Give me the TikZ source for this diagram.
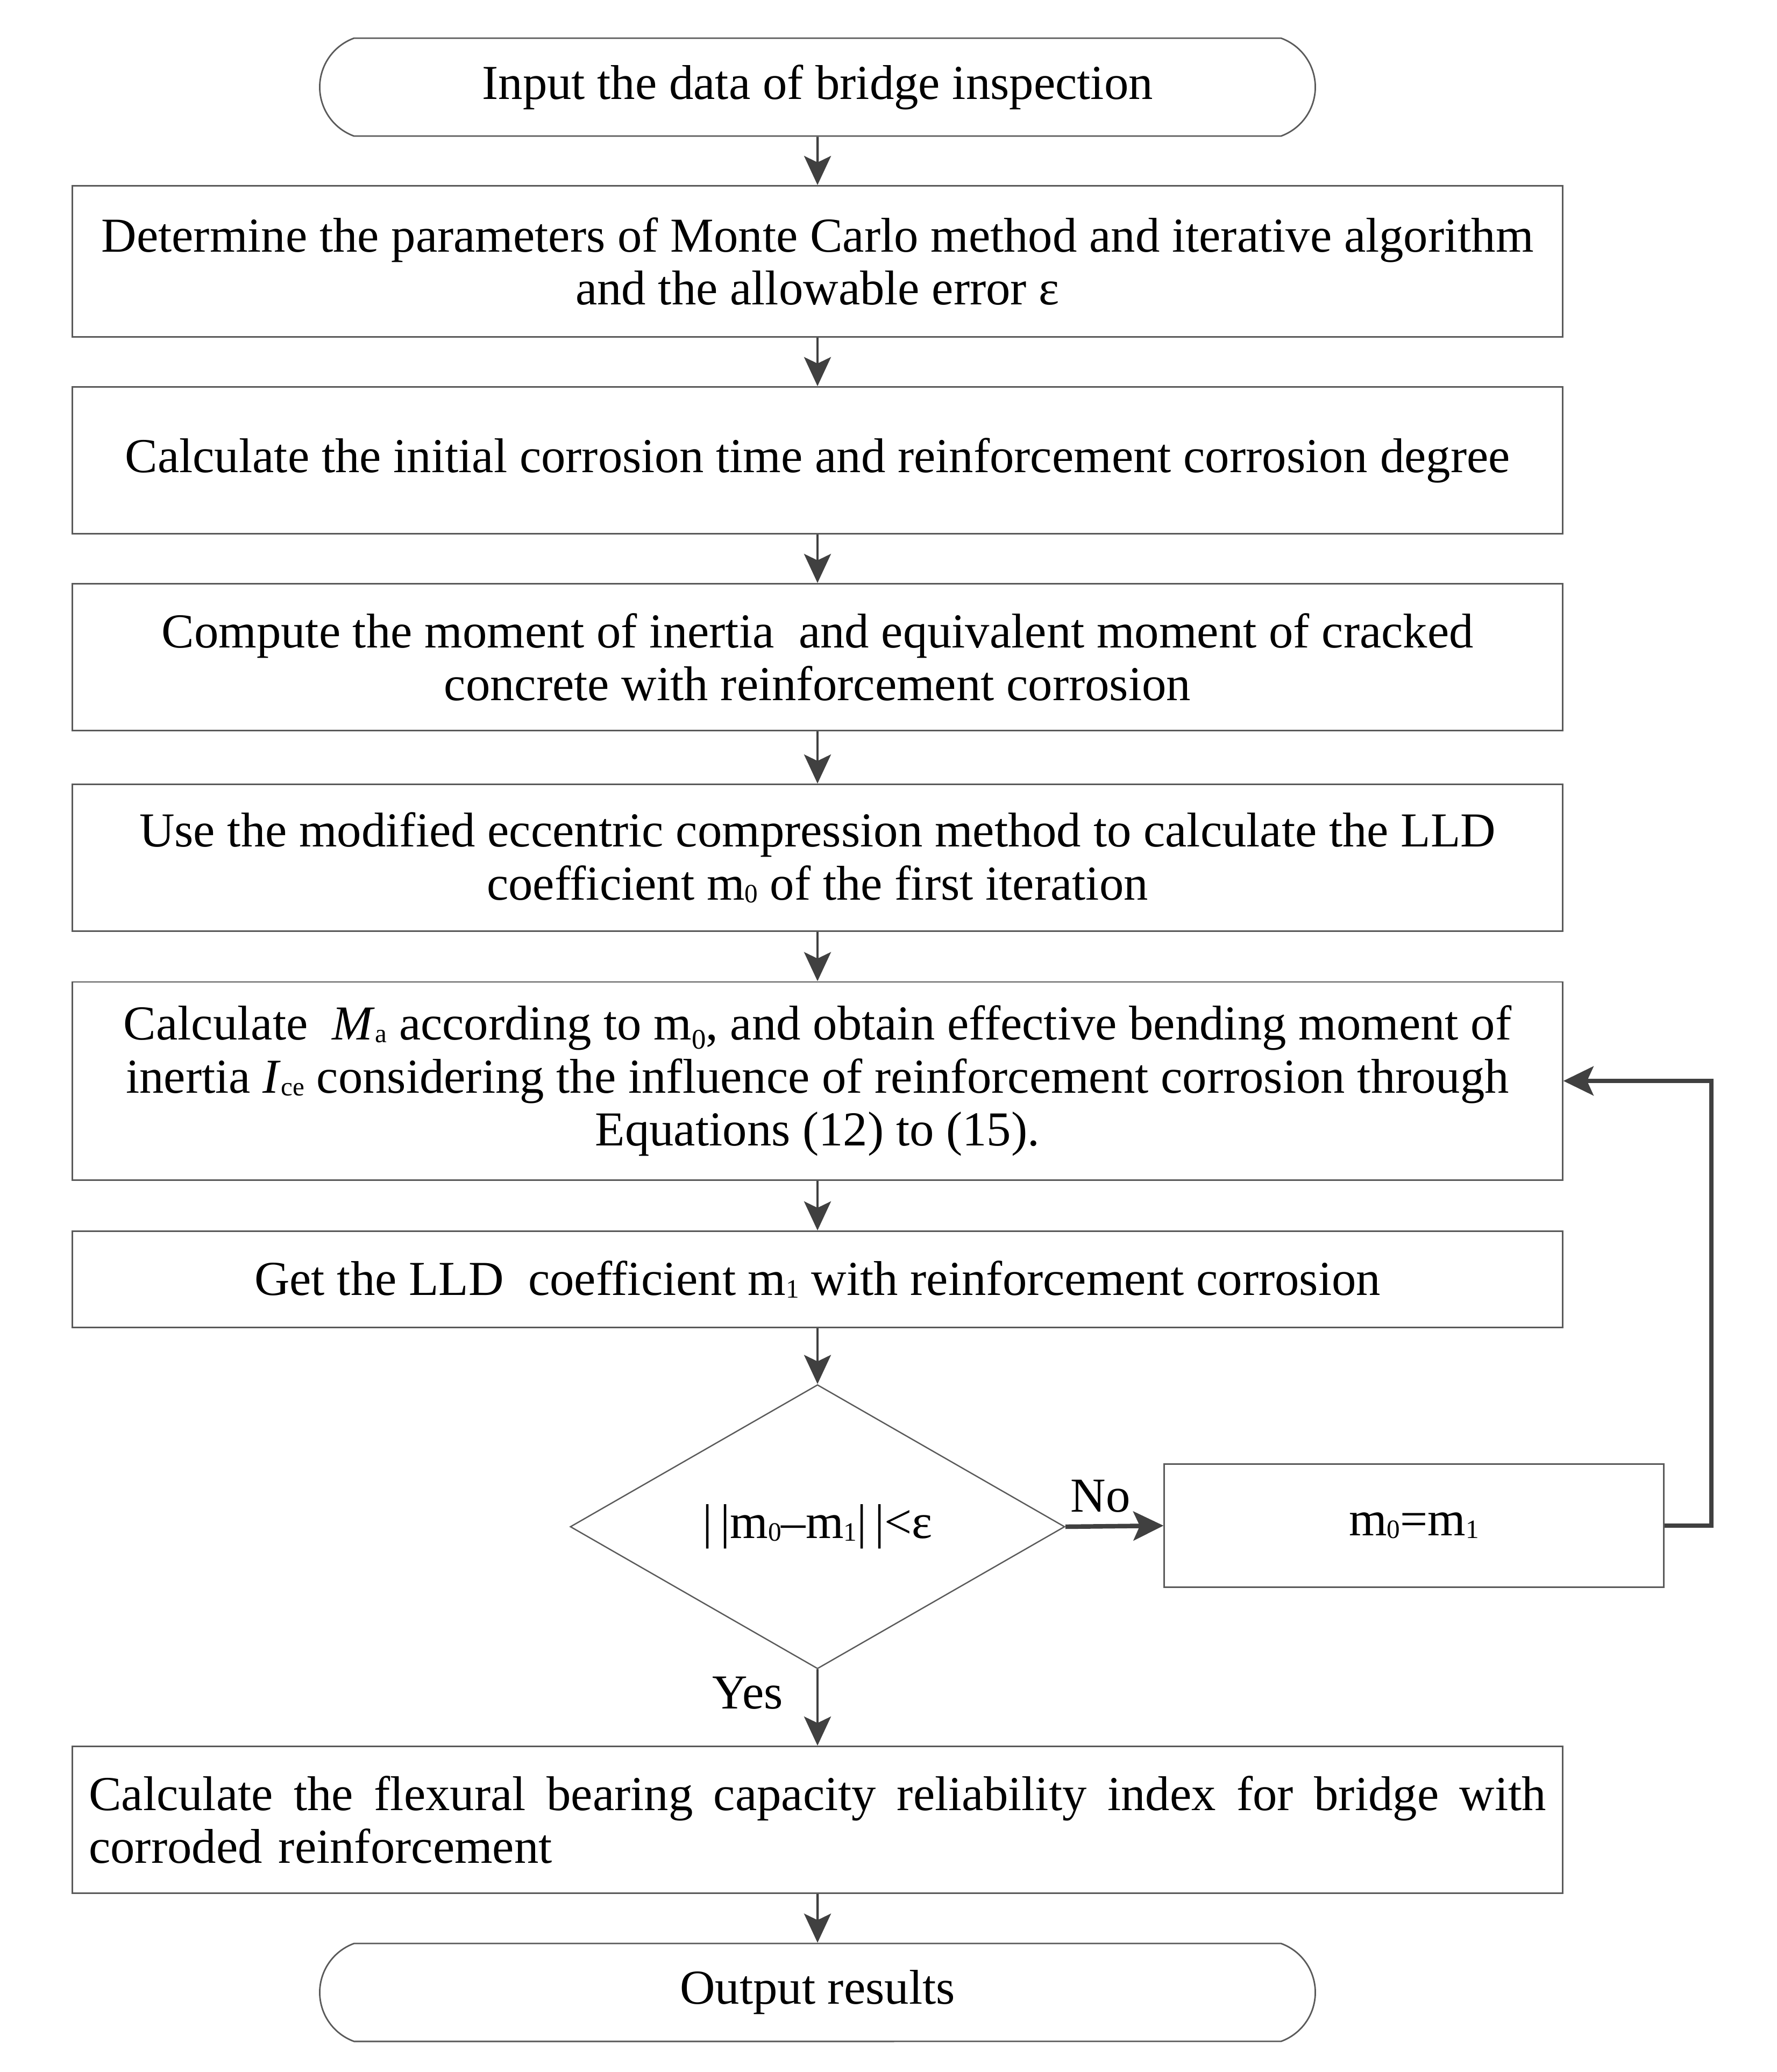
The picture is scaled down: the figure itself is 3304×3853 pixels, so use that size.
\documentclass[tikz,border=0pt]{standalone}
\usepackage{fontspec}
\setmainfont{Liberation Serif}
\usetikzlibrary{arrows.meta,shapes.geometric,shapes.misc}
\definecolor{linec}{HTML}{404040}
\definecolor{boxc}{HTML}{5A5A5A}
\newcommand{\sbs}[1]{\raisebox{-0.12ex}{\fontsize{14}{14}\selectfont #1}}
\newcommand{\sbl}[1]{\raisebox{-0.4ex}{\fontsize{15}{15}\selectfont #1}}
\tikzset{
  basefont/.style={font=\fontsize{25.8}{28}\selectfont},
  pbox/.style={draw=boxc, line width=0.8pt, rectangle, minimum width=27.69cm, align=center, inner sep=0pt, basefont},
  term/.style={draw=boxc, line width=0.8pt, rounded rectangle, rounded rectangle arc length=140, minimum width=18.5cm, minimum height=1.82cm, inner sep=0pt, basefont},
  dec/.style={draw=boxc, line width=0.7pt, diamond, aspect=1.74, minimum width=9.19cm, minimum height=5.28cm, inner sep=0pt, basefont},
  arr/.style={draw=linec, line width=1.3pt, -{Stealth[length=0.54cm,width=0.5cm,inset=0.12cm]}},
  thickarr/.style={draw=linec, line width=2.4pt, -{Stealth[length=0.56cm,width=0.54cm,inset=0.12cm]}},
  lbl/.style={inner sep=0pt, basefont},
}
\begin{document}
\begin{tikzpicture}[x=0.01cm,y=-0.01cm]
\useasboundingbox (0,0) rectangle (3304,3853);
\node[term] (start) at (1520,162) {Input the data of bridge inspection};
\node[pbox, minimum height=2.81cm] (b2) at (1520,486) {Determine the parameters of Monte Carlo method and iterative algorithm\\and the allowable error ε};
\node[pbox, minimum height=2.73cm] (b3) at (1520,856) {Calculate the initial corrosion time and reinforcement corrosion degree};
\node[pbox, minimum height=2.73cm] (b4) at (1520,1222) {Compute the moment of inertia\ \ and equivalent moment of cracked\\concrete with reinforcement corrosion};
\node[pbox, minimum height=2.73cm] (b5) at (1520,1595) {Use the modified eccentric compression method to calculate the LLD\\coefficient m\sbs{0} of the first iteration};
\node[pbox, minimum height=3.68cm] (b6) at (1520,2010) {Calculate\ \ \textit{M}\sbs{a} according to m\sbl{0}, and obtain effective bending moment of\\inertia \textit{I}\sbs{ce} considering the influence of reinforcement corrosion through\\Equations (12) to (15).};
\node[pbox, minimum height=1.79cm] (b7) at (1520,2379) {Get the LLD\ \ coefficient m\sbs{1} with reinforcement corrosion};
\node[dec] (d) at (1520,2839) {|\,|m\sbs{0}–m\sbs{1}|\,|<ε};
\node[draw=boxc, line width=0.8pt, rectangle, minimum width=9.28cm, minimum height=2.29cm, inner sep=0pt, basefont] (m) at (2629,2837) {m\sbs{0}=m\sbs{1}};
\node[pbox, minimum height=2.73cm, text width=27.08cm, align=left] (b9) at (1520,3384) {\hbox to 27.08cm{Calculate\hfill the\hfill flexural\hfill bearing\hfill capacity\hfill reliability\hfill index\hfill for\hfill bridge\hfill with}\\corroded reinforcement};
\node[term] (end) at (1520,3705) {Output results};
\coordinate (lp1) at (3182,2837);
\coordinate (lp2) at (3182,2010);
\node[lbl] (no) at (2046,2782) {No};
\node[lbl] (yes) at (1390,3148) {Yes};
\draw[arr] (start) -- (b2);
\draw[arr] (b2) -- (b3);
\draw[arr] (b3) -- (b4);
\draw[arr] (b4) -- (b5);
\draw[arr] (b5) -- (b6);
\draw[arr] (b6) -- (b7);
\draw[arr] (b7) -- (d);
\draw[thickarr] (d.east) -- (m.west);
\draw[thickarr] (m.east) -- (lp1) -- (lp2) -- (b6.east);
\draw[arr] (d.south) -- (b9.north);
\draw[arr] (b9) -- (end);
\end{tikzpicture}
\end{document}
